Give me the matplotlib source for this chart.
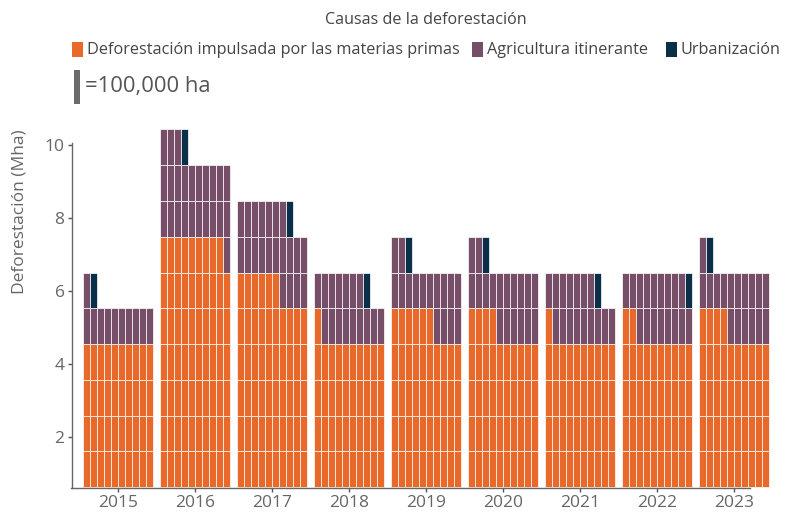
import matplotlib
matplotlib.use("Agg")
import matplotlib.pyplot as plt
from matplotlib.patches import Rectangle

# ---- data (Mha) ----
years = [2015, 2016, 2017, 2018, 2019, 2020, 2021, 2022, 2023]
commodity = [4.0, 6.9, 5.6, 4.1, 4.6, 4.4, 4.1, 4.2, 4.4]
shifting = [1.1, 2.4, 2.1, 1.6, 1.6, 1.8, 1.6, 1.7, 1.7]
urban = [0.1, 0.1, 0.1, 0.1, 0.1, 0.1, 0.1, 0.1, 0.1]
categories = ["Deforestación impulsada por las materias primas",
              "Agricultura itinerante", "Urbanización"]
colors = ["#E8692A", "#764E68", "#0A3049"]
unit = 0.1          # one cell = 100,000 ha
ncols = 10          # cells per row
yticks = [2, 4, 6, 8, 10]

plt.rcParams['font.family'] = ['Open Sans', 'DejaVu Sans']
fig = plt.figure(figsize=(7.85, 5.13), dpi=100)
ax = fig.add_axes([71.5 / 785, 1 - 488.3 / 513, 679 / 785, 345.3 / 513])

cw = 0.091
row_h = 0.98
base = 0.62
for i, yr in enumerate(years):
    seq = []
    for c, vals in enumerate([commodity, shifting, urban]):
        seq += [c] * int(round(vals[i] / unit))
    for k, c in enumerate(seq):
        r, col = divmod(k, ncols)
        x0 = yr - ncols * cw / 2 + col * cw
        y0 = base + r * row_h
        ax.add_patch(Rectangle((x0, y0), cw, row_h, facecolor=colors[c],
                               edgecolor="white", linewidth=0.5,
                               alpha=1, clip_on=False))

ax.set_xlim(years[0] - 0.6, years[-1] + 0.21)
ax.set_ylim(0.59, 10.05)
ax.set_xticks(years)
ax.set_xticklabels([str(y) for y in years])
ax.set_yticks(yticks)
for s in ["top", "right"]:
    ax.spines[s].set_visible(False)
for s in ["left", "bottom"]:
    ax.spines[s].set_color("#666666")
    ax.spines[s].set_linewidth(1.0)
ax.tick_params(axis="both", colors="#555555", labelsize=12.5, length=3,
               width=1, labelcolor="#666666", pad=2)
fig.text(20 / 785, 1 - 212 / 513, "Deforestación (Mha)", rotation=90,
         ha="center", va="center", fontsize=12.5, color="#666666")

# legend title
fig.text(426 / 785, 1 - 20 / 513, "Causas de la deforestación", ha="center",
         va="center", fontsize=11.6, color="#444444")
# legend entries
leg_x = [72, 472, 666]
for c, (lx, name) in enumerate(zip(leg_x, categories)):
    fig.patches.append(Rectangle((lx / 785, 1 - 57 / 513), 11 / 785, 15 / 513,
                                 transform=fig.transFigure, facecolor=colors[c],
                                 edgecolor="none"))
    fig.text((lx + 15) / 785, 1 - 49.5 / 513, name, ha="left", va="center",
             fontsize=11.7, color="#444444")
# unit key
fig.patches.append(Rectangle((74 / 785, 1 - 104 / 513), 6 / 785, 34 / 513,
                             transform=fig.transFigure, facecolor="#6B6B6B",
                             edgecolor="none"))
fig.text(85 / 785, 1 - 87 / 513, "=100,000 ha", ha="left", va="center",
         fontsize=15.8, color="#555555")

fig.savefig("out.png", dpi=100)
